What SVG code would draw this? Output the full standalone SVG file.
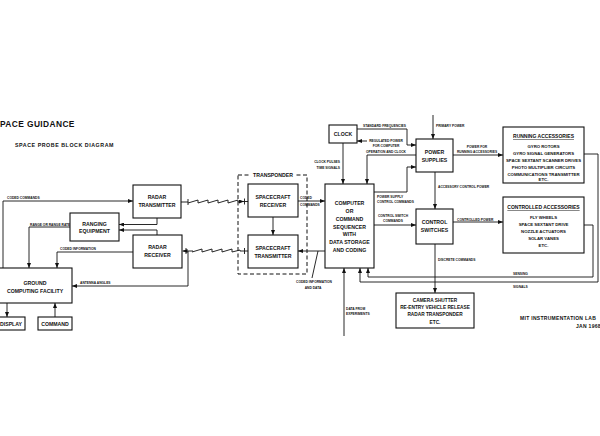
<svg xmlns="http://www.w3.org/2000/svg" width="600" height="436" viewBox="0 0 600 436">
<defs>
<marker id="ah" markerUnits="userSpaceOnUse" markerWidth="5" markerHeight="4" refX="5" refY="2" orient="auto">
<path d="M0,0 L5,2 L0,4 z" fill="#111"/>
</marker>
<style>
.b{fill:#fff;stroke:#111;stroke-width:1.1}
.c{fill:none;stroke:#111;stroke-width:0.9}
.a{fill:none;stroke:#111;stroke-width:0.9;marker-end:url(#ah)}
.t{font-family:"Liberation Sans",Arial,sans-serif;font-weight:bold;font-size:5.2px;fill:#111;text-anchor:middle}
.s{font-family:"Liberation Sans",Arial,sans-serif;font-weight:bold;font-size:3.3px;fill:#111}
.m{text-anchor:middle}
.e{text-anchor:end}
.i{font-size:4.3px}
.h{font-size:5px;text-decoration:underline}
.k{font-size:4.75px}
</style>
</defs>
<rect width="600" height="436" fill="#fff"/>
<text x="0" y="127" font-family="Liberation Sans, Arial, sans-serif" font-weight="bold" font-size="8.4" fill="#111" letter-spacing="0.4">PACE GUIDANCE</text>
<text x="15" y="147" font-family="Liberation Sans, Arial, sans-serif" font-weight="bold" font-size="5.3" fill="#111" letter-spacing="0.55">SPACE PROBE BLOCK DIAGRAM</text>

<g id="connectors">
<path class="a" d="M3,268 V201 H133"/>
<path class="a" d="M70,227 H29 V268"/>
<path class="a" d="M133,252 H57 V268"/>
<path class="a" d="M188,251 V286 H72"/>
<path class="a" d="M7,303 V317"/>
<path class="a" d="M55,317 V303"/>
<path class="a" d="M157,218 V224.5 H119"/>
<path class="a" d="M157,235 V230 H119"/>
<path class="c" d="M181,202 H188 M188,199 V205"/>
<path class="c" d="M188,203 L198,200 V203 L208,200 V203 L218,200 V203 L228,200 V203 L238,200 V202 H240"/>
<path class="a" d="M239,201.5 H244"/>
<path class="c" d="M244.5,198.5 V204.5 M244.5,201.5 H248"/>
<path class="a" d="M193,251 H182.5"/>
<path class="c" d="M186,248 V254"/>
<path class="c" d="M192,252 L202,249 V252 L212,249 V252 L222,249 V252 L232,249 V252 L240,250 V251 H244"/>
<path class="c" d="M244.5,248 V254 M244.5,251 H248"/>
<path class="a" d="M273,217 V235"/>
<path class="a" d="M298,201 H325"/>
<path class="a" d="M325,251 H298"/>
<path class="c" d="M318,251 L312,278"/>
<path class="a" d="M343,143 V184"/>
<path class="a" d="M357,129 H407 V145 H416"/>
<path class="a" d="M416,155 H367 V184"/>
<path class="a" d="M367,141 H357"/>
<path class="a" d="M433,115 V139"/>
<path class="a" d="M374,192 H407 V167 H416"/>
<path class="a" d="M453,155 H503"/>
<path class="a" d="M435,172 V209"/>
<path class="a" d="M374,225 H416"/>
<path class="a" d="M453,222 H503"/>
<path class="a" d="M435,244 V293"/>
<path class="a" d="M344,336 V268"/>
<path class="a" d="M584,225 H593 V277 H368 V268"/>
<path class="a" d="M584,154 H598 V282 H360 V268"/>
</g>

<g id="labels">
<text class="s" x="7" y="199">CODED COMMANDS</text>
<text class="s" x="30" y="225.5">RANGE OR RANGE RATE</text>
<text class="s" x="60" y="250">CODED INFORMATION</text>
<text class="s" x="80" y="284">ANTENNA ANGLES</text>
<text class="s" x="300" y="198.5">CODED</text>
<text class="s" x="300" y="205.5">COMMANDS</text>
<text class="s" x="296" y="283">CODED INFORMATION</text>
<text class="s m" x="313" y="289">AND DATA</text>
<text class="s e" x="340" y="163">CLOCK PULSES</text>
<text class="s e" x="340" y="169">TIME SIGNALS</text>
<text class="s" x="363" y="126.5">STANDARD FREQUENCIES</text>
<text class="s m" x="386" y="142">REGULATED POWER</text>
<text class="s m" x="386" y="147">FOR COMPUTER</text>
<text class="s m" x="386" y="152.5">OPERATION AND CLOCK</text>
<text class="s" x="436" y="126.5">PRIMARY POWER</text>
<text class="s m" x="477" y="147.5">POWER FOR</text>
<text class="s m" x="477" y="153">RUNNING ACCESSORIES</text>
<text class="s" x="438" y="187.5">ACCESSORY CONTROL POWER</text>
<text class="s" x="377" y="197.5">POWER SUPPLY</text>
<text class="s" x="377" y="203">CONTROL COMMANDS</text>
<text class="s m" x="393" y="216.5">CONTROL SWITCH</text>
<text class="s m" x="393" y="221.5">COMMANDS</text>
<text class="s" x="457" y="220.5">CONTROLLED POWER</text>
<text class="s" x="438" y="260.5">DISCRETE COMMANDS</text>
<text class="s" x="513" y="275">SENSING</text>
<text class="s" x="513" y="288">SIGNALS</text>
<text class="s" x="346" y="310">DATA FROM</text>
<text class="s" x="346" y="315">EXPERIMENTS</text>
</g>

<g id="radar-transmitter">
<rect class="b" x="133" y="185" width="48" height="33"/>
<text class="t" x="157" y="199">RADAR</text>
<text class="t" x="157" y="207">TRANSMITTER</text>
</g>
<g id="ranging-equipment">
<rect class="b" x="70" y="213" width="49" height="28"/>
<text class="t" x="94.5" y="225.5">RANGING</text>
<text class="t" x="94.5" y="232.5">EQUIPMENT</text>
</g>
<g id="radar-receiver">
<rect class="b" x="133" y="235" width="49" height="33"/>
<text class="t" x="157.5" y="249">RADAR</text>
<text class="t" x="157.5" y="257">RECEIVER</text>
</g>
<g id="ground-computing">
<rect class="b" x="-3" y="268" width="75" height="35"/>
<text class="t" x="35" y="285">GROUND</text>
<text class="t" x="35" y="293">COMPUTING FACILITY</text>
</g>
<g id="display">
<rect class="b" x="-5" y="317" width="30" height="13"/>
<text class="t" x="11" y="325.5">DISPLAY</text>
</g>
<g id="command">
<rect class="b" x="38" y="317" width="34" height="13"/>
<text class="t" x="55" y="325.5">COMMAND</text>
</g>
<g id="transponder">
<rect x="238" y="175" width="69" height="99" fill="none" stroke="#111" stroke-width="1" stroke-dasharray="4,2.5"/>
<rect x="251" y="172" width="44" height="6" fill="#fff"/>
<text class="t" x="273" y="177">TRANSPONDER</text>
</g>
<g id="spacecraft-receiver">
<rect class="b" x="248" y="184" width="50" height="33"/>
<text class="t" x="273" y="199">SPACECRAFT</text>
<text class="t" x="273" y="207">RECEIVER</text>
</g>
<g id="spacecraft-transmitter">
<rect class="b" x="248" y="235" width="50" height="33"/>
<text class="t" x="273" y="250">SPACECRAFT</text>
<text class="t" x="273" y="258">TRANSMITTER</text>
</g>
<g id="computer">
<rect class="b" x="325" y="184" width="49" height="84"/>
<text class="t" x="349.5" y="205">COMPUTER</text>
<text class="t" x="349.5" y="213">OR</text>
<text class="t" x="349.5" y="221">COMMAND</text>
<text class="t" x="349.5" y="229">SEQUENCER</text>
<text class="t" x="349.5" y="236">WITH</text>
<text class="t" x="349.5" y="244">DATA STORAGE</text>
<text class="t" x="349.5" y="252">AND CODING</text>
</g>
<g id="clock">
<rect class="b" x="329" y="125" width="28" height="18"/>
<text class="t" x="343" y="136">CLOCK</text>
</g>
<g id="power-supplies">
<rect class="b" x="416" y="139" width="37" height="33"/>
<text class="t" x="434.5" y="154">POWER</text>
<text class="t" x="434.5" y="162">SUPPLIES</text>
</g>
<g id="control-switches">
<rect class="b" x="416" y="209" width="37" height="35"/>
<text class="t" x="434.5" y="224">CONTROL</text>
<text class="t" x="434.5" y="232">SWITCHES</text>
</g>
<g id="running-accessories">
<rect class="b" x="503" y="127" width="81" height="56"/>
<text class="t h" x="543.5" y="138">RUNNING ACCESSORIES</text>
<text class="t i" x="543.5" y="148">GYRO ROTORS</text>
<text class="t i" x="543.5" y="155">GYRO SIGNAL GENERATORS</text>
<text class="t i" x="543.5" y="162">SPACE SEXTANT SCANNER DRIVES</text>
<text class="t i" x="543.5" y="169">PHOTO MULTIPLIER CIRCUITS</text>
<text class="t i" x="543.5" y="176">COMMUNICATIONS TRANSMITTER</text>
<text class="t i" x="543.5" y="181">ETC.</text>
</g>
<g id="controlled-accessories">
<rect class="b" x="503" y="197" width="81" height="56"/>
<text class="t h" x="543.5" y="209">CONTROLLED ACCESSORIES</text>
<text class="t i" x="543.5" y="219">FLY WHEELS</text>
<text class="t i" x="543.5" y="226">SPACE SEXTANT DRIVE</text>
<text class="t i" x="543.5" y="233">NOZZLE ACTUATORS</text>
<text class="t i" x="543.5" y="240">SOLAR VANES</text>
<text class="t i" x="543.5" y="247">ETC.</text>
</g>
<g id="experiment-devices">
<rect class="b" x="396" y="293" width="78" height="35"/>
<text class="t k" x="435" y="302">CAMERA SHUTTER</text>
<text class="t k" x="435" y="309">RE-ENTRY VEHICLE RELEASE</text>
<text class="t k" x="435" y="316">RADAR TRANSPONDER</text>
<text class="t k" x="435" y="323.5">ETC.</text>
</g>
<g id="credit">
<text x="520" y="320" font-family="Liberation Sans, Arial, sans-serif" font-weight="bold" font-size="5" fill="#111" letter-spacing="0.3">MIT INSTRUMENTATION LAB</text>
<text x="576" y="328" font-family="Liberation Sans, Arial, sans-serif" font-weight="bold" font-size="5" fill="#111" letter-spacing="0.3">JAN 1968</text>
</g>
</svg>
